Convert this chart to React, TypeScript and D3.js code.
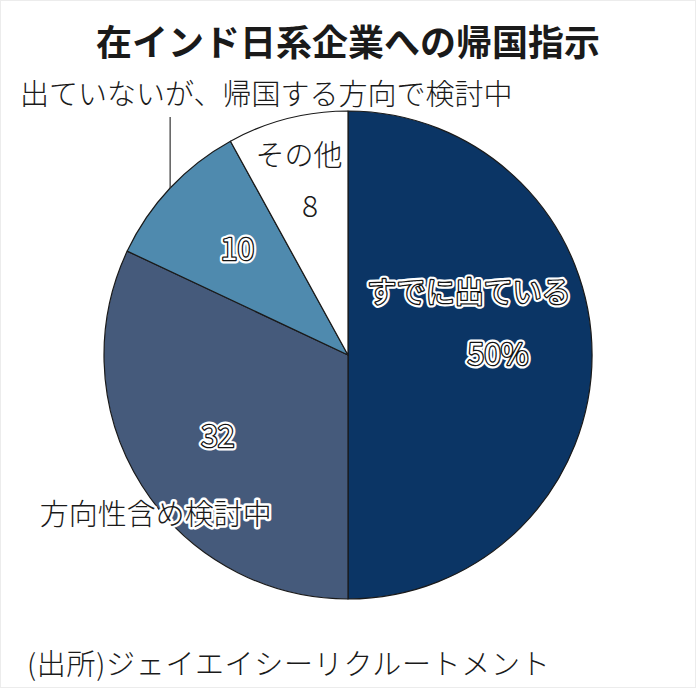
import * as d3 from "d3";
import React from "react";

// data
const categories = ["すでに出ている", "方向性含め検討中", "出ていないが、帰国する方向で検討中", "その他"];
const values = [50, 32, 10, 8];
const valueLabels = ["50%", "32", "10", "8"];
const colors = ["#0b3565", "#455a7b", "#4f8aae", "#ffffff"];

const title = "在インド日系企業への帰国指示";
const source = "(出所)ジェイエイシーリクルートメント";

const W = 696;
const H = 688;
const FONT = "'Noto Sans CJK JP', 'Noto Sans', sans-serif";

type Label = {
	text: string;
	x: number;
	y: number;
	size: number;
	style: "plain" | "white" | "halo";
	anchor?: "start" | "middle" | "end";
	weight?: number;
	spacing?: number;
};

function OutlinedText({ l }: { l: Label }) {
	const common = {
		x: l.x,
		y: l.y,
		fontSize: l.size,
		fontFamily: FONT,
		fontWeight: l.weight ?? 300,
		letterSpacing: l.spacing ?? 0,
		textAnchor: l.anchor ?? "middle",
		dominantBaseline: "central" as const,
		strokeLinejoin: "round" as const,
	};
	if (l.style === "plain") {
		return (
			<text {...common} fill="#1a1a1a">
				{l.text}
			</text>
		);
	}
	if (l.style === "halo") {
		return (
			<g>
				<text {...common} fill="none" stroke="#fff" strokeWidth={5}>
					{l.text}
				</text>
				<text {...common} fill="#1a1a1a">
					{l.text}
				</text>
			</g>
		);
	}
	return (
		<g>
			<text {...common} fill="none" stroke="#fff" strokeWidth={7}>
				{l.text}
			</text>
			<text {...common} fill="none" stroke="#111" strokeWidth={2.6}>
				{l.text}
			</text>
			<text {...common} fill="#fff">
				{l.text}
			</text>
		</g>
	);
}

export default function App() {
	const cx = 348;
	const cy = 355;
	const R = 244;
	const labelR = 153;

	const pie = d3
		.pie<number>()
		.sort(null)
		.startAngle(0)
		.endAngle(Math.PI * 2)
		.value((d) => d);
	const arcs = pie(values);
	const arc = d3.arc<d3.PieArcDatum<number>>().innerRadius(0).outerRadius(R);
	const labelArc = d3
		.arc<d3.PieArcDatum<number>>()
		.innerRadius(labelR)
		.outerRadius(labelR);

	const cent = arcs.map((a) => labelArc.centroid(a));

	// leader line for the "10" slice: from arc edge at mid angle straight up
	const mid2 = (arcs[2].startAngle + arcs[2].endAngle) / 2;
	const leadX = cx + R * Math.sin(mid2);
	const leadY = cy - R * Math.cos(mid2);

	const labels: Label[] = [
		{ text: title, x: W / 2, y: 39.5, size: 36, style: "plain", weight: 700 },
		{ text: categories[2], x: 20, y: 91.5, size: 29, style: "plain", anchor: "start" },
		{ text: source, x: 27, y: 662, size: 29, style: "plain", anchor: "start", spacing: 0.7 },
		// 50
		{ text: categories[0], x: cx + cent[0][0] - 32, y: cy + cent[0][1] - 65, size: 29, style: "white", weight: 400 },
		{ text: valueLabels[0], x: cx + cent[0][0] - 3, y: cy + cent[0][1] - 3, size: 30, style: "white", weight: 400 },
		// 32
		{ text: valueLabels[1], x: cx + cent[1][0] - 1, y: cy + cent[1][1] - 3, size: 30, style: "white", weight: 400 },
		{ text: categories[1], x: cx + cent[1][0] - 63, y: cy + cent[1][1] + 75, size: 29, style: "halo" },
		// 10
		{ text: valueLabels[2], x: cx + cent[2][0] + 1, y: cy + cent[2][1] - 3, size: 30, style: "white", weight: 400 },
		// 8
		{ text: categories[3], x: cx + cent[3][0] - 11, y: cy + cent[3][1] - 54, size: 29, style: "plain" },
		{ text: valueLabels[3], x: cx + cent[3][0], y: cy + cent[3][1] - 3, size: 30, style: "plain" },
	];

	return (
		<svg
			width={W}
			height={H}
			viewBox={`0 0 ${W} ${H}`}
			style={{ position: "absolute", left: 0, top: 0, background: "#fff" }}
		>
			<rect x={0.5} y={0.5} width={W - 1} height={H - 1} fill="#fff" stroke="#ececec" />
			<g transform={`translate(${cx},${cy})`}>
				{arcs.map((a, i) => (
					<path
						key={i}
						d={arc(a) ?? ""}
						fill={colors[i]}
						stroke="#1a1a1a"
						strokeWidth={1.2}
						strokeLinejoin="round"
					/>
				))}
			</g>
			<line x1={leadX} y1={leadY} x2={leadX} y2={117} stroke="#333" strokeWidth={1.2} />
			{labels.map((l, i) => (
				<OutlinedText key={i} l={l} />
			))}
		</svg>
	);
}
